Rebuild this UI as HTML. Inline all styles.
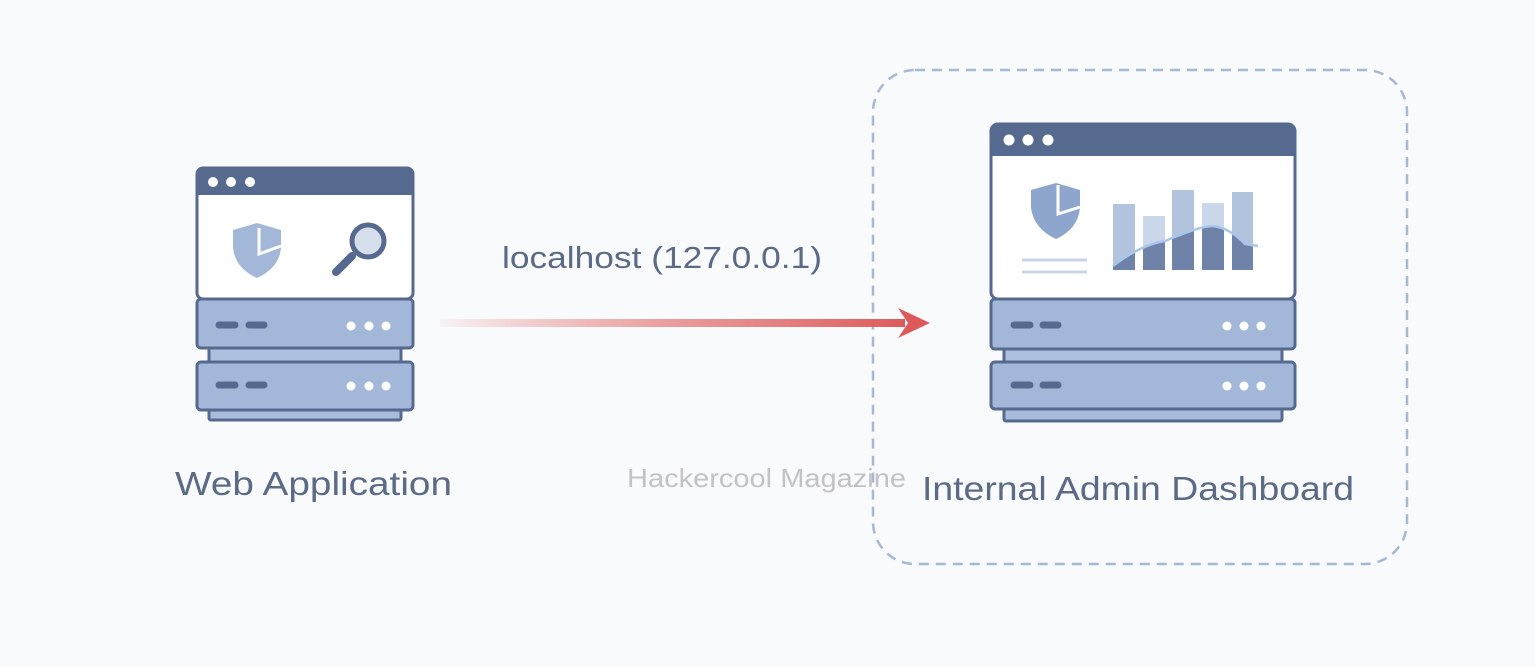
<!DOCTYPE html>
<html><head><style>html,body{margin:0;padding:0;background:#f9fafc;}svg{display:block}</style></head>
<body>
<svg width="1535" height="667" viewBox="0 0 1535 667" xmlns="http://www.w3.org/2000/svg" font-family="Liberation Sans, DejaVu Sans, sans-serif">
<defs>
<linearGradient id="ar" x1="0" x2="1"><stop offset="0" stop-color="#e06060" stop-opacity="0.05"/><stop offset="0.5" stop-color="#e27474" stop-opacity="0.7"/><stop offset="1" stop-color="#de5a5a"/></linearGradient>
</defs>
<rect width="1535" height="667" fill="#f9fafc"/>
<rect x="873" y="70" width="534" height="494" rx="42" fill="none" stroke="#a5b8d5" stroke-width="2.5" stroke-dasharray="10 7"/>
<g stroke="#566a8f" stroke-width="3">
<rect x="209" y="405" width="192" height="15" rx="2" fill="#a9bcdb"/>
<rect x="197" y="362" width="216" height="48" rx="4" fill="#a3b8d9"/>
<rect x="209" y="345" width="192" height="17" fill="#adc0de"/>
<rect x="197" y="299" width="216" height="49" rx="4" fill="#a3b8d9"/>
<rect x="197" y="168" width="216" height="131" rx="6" fill="#fff"/>
</g>
<path d="M197 195 V174 a6 6 0 0 1 6-6 H407 a6 6 0 0 1 6 6 V195 Z" fill="#566a8f"/>
<g fill="#fff"><circle cx="213" cy="182" r="5"/><circle cx="231" cy="182" r="5"/><circle cx="250" cy="182" r="5"/></g>
<g stroke="#566a8f" stroke-width="7" stroke-linecap="round"><line x1="219" y1="325" x2="235" y2="325"/><line x1="249" y1="325" x2="264" y2="325"/><line x1="219" y1="385" x2="235" y2="385"/><line x1="249" y1="385" x2="264" y2="385"/></g>
<g fill="#fff"><circle cx="351" cy="326" r="4.5"/><circle cx="369" cy="326" r="4.5"/><circle cx="386" cy="326" r="4.5"/><circle cx="351" cy="386" r="4.5"/><circle cx="369" cy="386" r="4.5"/><circle cx="386" cy="386" r="4.5"/></g>
<path d="M233 230 L257 223 L281 230 L281 248 Q279 268 257 278 Q235 268 233 248 Z" fill="#a3b8d9"/>
<path d="M259 228 V254 L281 246" fill="none" stroke="#fff" stroke-width="3"/>
<line x1="336" y1="272" x2="352" y2="256" stroke="#566a8f" stroke-width="8" stroke-linecap="round"/>
<circle cx="368" cy="241" r="16" fill="#d5deeb" stroke="#566a8f" stroke-width="5"/>
<g stroke="#566a8f" stroke-width="3">
<rect x="1004" y="405" width="278" height="16" rx="2" fill="#a9bcdb"/>
<rect x="991" y="362" width="304" height="47" rx="4" fill="#a3b8d9"/>
<rect x="1004" y="346" width="278" height="16" fill="#adc0de"/>
<rect x="991" y="299" width="304" height="50" rx="4" fill="#a3b8d9"/>
<rect x="991" y="124" width="304" height="175" rx="7" fill="#fff"/>
</g>
<path d="M991 156 V131 a7 7 0 0 1 7-7 H1288 a7 7 0 0 1 7 7 V156 Z" fill="#566a8f"/>
<g fill="#fff"><circle cx="1009" cy="140" r="5.5"/><circle cx="1028" cy="140" r="5.5"/><circle cx="1048" cy="140" r="5.5"/></g>
<g stroke="#566a8f" stroke-width="7" stroke-linecap="round"><line x1="1014" y1="325" x2="1030" y2="325"/><line x1="1043" y1="325" x2="1058" y2="325"/><line x1="1014" y1="385" x2="1030" y2="385"/><line x1="1043" y1="385" x2="1058" y2="385"/></g>
<g fill="#fff"><circle cx="1227" cy="326" r="4.5"/><circle cx="1244" cy="326" r="4.5"/><circle cx="1261" cy="326" r="4.5"/><circle cx="1227" cy="386" r="4.5"/><circle cx="1244" cy="386" r="4.5"/><circle cx="1261" cy="386" r="4.5"/></g>
<path d="M1031 190 L1056 183 L1080 190 L1080 208 Q1078 229 1056 239 Q1034 229 1031 208 Z" fill="#8ea6cd"/>
<path d="M1058 185 V214 L1080 207" fill="none" stroke="#fff" stroke-width="3"/>
<g stroke="#c9d5e7" stroke-width="3"><line x1="1022" y1="260" x2="1087" y2="260"/><line x1="1022" y1="272" x2="1087" y2="272"/></g>
<g fill="#b2c3de"><rect x="1113" y="204" width="22" height="66"/><rect x="1143" y="216" width="22" height="54" fill="#cbd7ea"/><rect x="1172" y="190" width="22" height="80"/><rect x="1202" y="203" width="22" height="67" fill="#cbd7ea"/><rect x="1232" y="192" width="21" height="78"/></g>
<clipPath id="bars"><rect x="1113" y="150" width="22" height="120"/><rect x="1143" y="150" width="22" height="120"/><rect x="1172" y="150" width="22" height="120"/><rect x="1202" y="150" width="22" height="120"/><rect x="1232" y="150" width="21" height="120"/></clipPath>
<path d="M1113 266 Q1140 245 1165 241 Q1200 226 1213 226 Q1230 228 1245 244 L1253 247 V270 H1113 Z" fill="#6f82a8" clip-path="url(#bars)"/>
<path d="M1113 266 Q1140 245 1165 241 Q1200 226 1213 226 Q1230 228 1245 244 L1258 246" fill="none" stroke="#a9c6ea" stroke-width="2.5"/>
<rect x="440" y="319" width="465" height="8" fill="url(#ar)"/>
<path d="M898 308 L930 323 L898 338 L908 323 Z" fill="#de5a5a"/>
<text x="502" y="268" font-size="31" fill="#5b6a86" textLength="320" lengthAdjust="spacingAndGlyphs">localhost (127.0.0.1)</text>
<text x="175" y="495" font-size="33" fill="#5b6a86" textLength="277" lengthAdjust="spacingAndGlyphs">Web Application</text>
<text x="922" y="500" font-size="33" fill="#5b6a86" textLength="432" lengthAdjust="spacingAndGlyphs">Internal Admin Dashboard</text>
<text x="627" y="487" font-size="26" fill="#c3c3c3" textLength="279" lengthAdjust="spacingAndGlyphs">Hackercool Magazine</text>
</svg>
</body></html>
